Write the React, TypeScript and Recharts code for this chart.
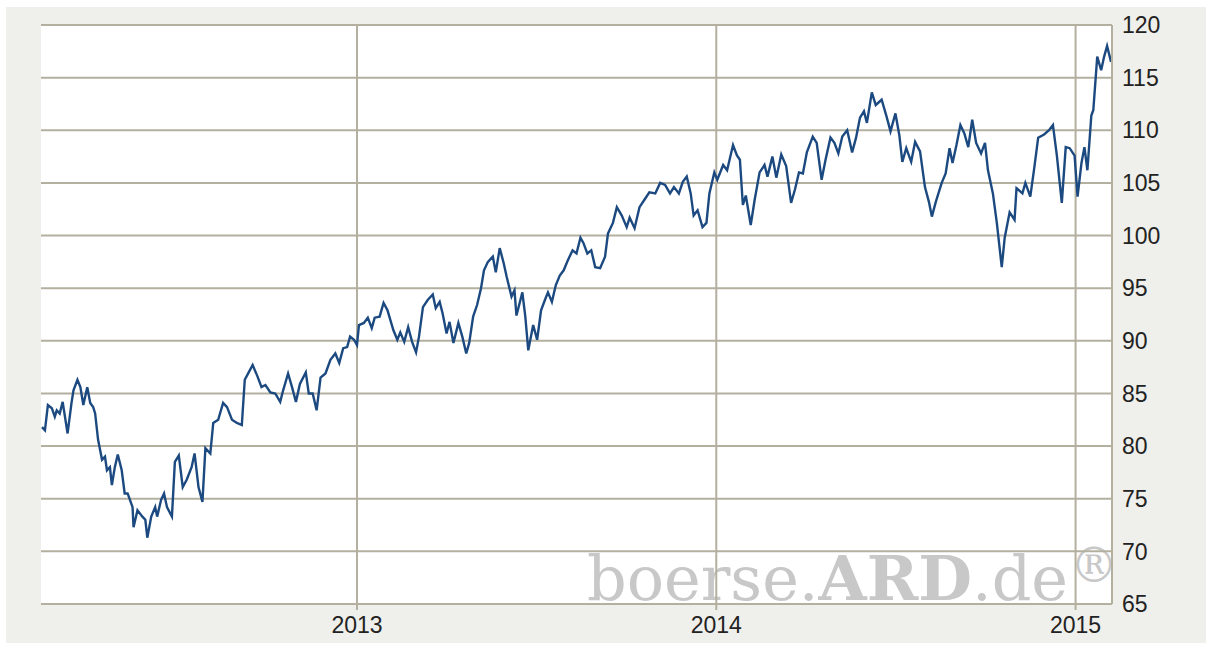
import React from "react";
import { LineChart, Line, XAxis, YAxis, CartesianGrid, ReferenceLine } from "recharts";

const dates: string[] = [
  "2012-02-16","2012-02-19","2012-02-22","2012-02-26","2012-02-29","2012-03-02","2012-03-05","2012-03-08","2012-03-13","2012-03-17",
  "2012-03-19","2012-03-23","2012-03-26","2012-03-29","2012-04-02","2012-04-05","2012-04-08","2012-04-10","2012-04-13","2012-04-17",
  "2012-04-20","2012-04-22","2012-04-25","2012-04-27","2012-04-30","2012-05-03","2012-05-07","2012-05-10","2012-05-13","2012-05-18",
  "2012-05-19","2012-05-23","2012-05-28","2012-05-31","2012-06-02","2012-06-06","2012-06-10","2012-06-12","2012-06-16","2012-06-19",
  "2012-06-22","2012-06-27","2012-06-30","2012-07-04","2012-07-08","2012-07-12","2012-07-17","2012-07-20","2012-07-24","2012-07-28",
  "2012-07-31","2012-08-05","2012-08-08","2012-08-13","2012-08-18","2012-08-22","2012-08-27","2012-09-01","2012-09-06","2012-09-09",
  "2012-09-13","2012-09-17","2012-09-22","2012-09-26","2012-09-30","2012-10-05","2012-10-10","2012-10-15","2012-10-18","2012-10-23",
  "2012-10-27","2012-10-31","2012-11-04","2012-11-10","2012-11-13","2012-11-17","2012-11-21","2012-11-25","2012-11-30","2012-12-05",
  "2012-12-10","2012-12-14","2012-12-18","2012-12-22","2012-12-25","2012-12-29",
  "2013-01-01","2013-01-03","2013-01-08","2013-01-12","2013-01-16","2013-01-19","2013-01-24","2013-01-28","2013-02-01","2013-02-07",
  "2013-02-11","2013-02-14","2013-02-18","2013-02-22","2013-02-26","2013-03-02","2013-03-05","2013-03-09","2013-03-14","2013-03-19",
  "2013-03-22","2013-03-26","2013-03-29","2013-04-02","2013-04-05","2013-04-09","2013-04-14","2013-04-18","2013-04-22","2013-04-25",
  "2013-04-29","2013-05-03","2013-05-07","2013-05-10","2013-05-14","2013-05-19","2013-05-22","2013-05-26","2013-05-30","2013-06-02",
  "2013-06-07","2013-06-10","2013-06-12","2013-06-18","2013-06-21","2013-06-24","2013-06-29","2013-07-03","2013-07-07","2013-07-11",
  "2013-07-14","2013-07-18","2013-07-22","2013-07-26","2013-07-30","2013-08-03","2013-08-08","2013-08-12","2013-08-16","2013-08-19",
  "2013-08-23","2013-08-27","2013-08-31","2013-09-05","2013-09-10","2013-09-13","2013-09-18","2013-09-22","2013-09-27","2013-10-02",
  "2013-10-05","2013-10-10","2013-10-15","2013-10-20","2013-10-25","2013-10-31","2013-11-05","2013-11-10","2013-11-15","2013-11-19",
  "2013-11-24","2013-11-28","2013-12-02","2013-12-06","2013-12-09","2013-12-13","2013-12-18","2013-12-22","2013-12-25","2013-12-30",
  "2014-01-02","2014-01-08","2014-01-12","2014-01-18","2014-01-22","2014-01-25","2014-01-28","2014-01-31","2014-02-05","2014-02-09",
  "2014-02-14","2014-02-19","2014-02-22","2014-02-27","2014-03-03","2014-03-08","2014-03-13","2014-03-18","2014-03-22","2014-03-26",
  "2014-03-30","2014-04-03","2014-04-09","2014-04-13","2014-04-18","2014-04-22","2014-04-27","2014-05-01","2014-05-05","2014-05-09",
  "2014-05-14","2014-05-19","2014-05-23","2014-05-27","2014-05-31","2014-06-03","2014-06-08","2014-06-12","2014-06-18","2014-06-23",
  "2014-06-27","2014-07-02","2014-07-06","2014-07-09","2014-07-13","2014-07-18","2014-07-22","2014-07-27","2014-08-01","2014-08-05",
  "2014-08-08","2014-08-12","2014-08-18","2014-08-22","2014-08-26","2014-08-29","2014-09-02","2014-09-06","2014-09-10","2014-09-14",
  "2014-09-18","2014-09-22","2014-09-27","2014-10-01","2014-10-04","2014-10-09","2014-10-13","2014-10-18","2014-10-21","2014-10-26",
  "2014-10-31","2014-11-02","2014-11-08","2014-11-11","2014-11-16","2014-11-20","2014-11-24","2014-11-30","2014-12-05","2014-12-09",
  "2014-12-13","2014-12-18","2014-12-22","2014-12-26","2014-12-31",
  "2015-01-03","2015-01-07","2015-01-10","2015-01-13","2015-01-17","2015-01-19","2015-01-23","2015-01-27","2015-01-30","2015-02-02",
  "2015-02-06",
];

const values: number[] = [
  81.8,81.5,83.9,83.6,82.8,83.4,83.1,84.2,81.2,84.1,
  85.3,86.3,85.6,83.9,85.6,84.1,83.7,83.1,80.6,78.7,
  79.0,77.7,78.0,76.3,78.0,79.2,77.7,75.5,75.5,74.2,
  72.3,73.9,73.3,73.0,71.3,73.3,74.2,73.3,74.9,75.5,
  74.2,73.3,78.5,79.1,76.1,76.8,78.0,79.3,76.1,74.7,
  79.8,79.3,82.2,82.5,84.1,83.7,82.5,82.2,82.0,86.3,
  87.0,87.7,86.6,85.6,85.8,85.1,85.0,84.2,85.3,86.9,
  85.6,84.2,85.9,87.0,85.0,85.0,83.4,86.5,86.9,88.2,
  88.8,87.9,89.3,89.4,90.4,90.1,
  89.6,91.5,91.7,92.2,91.2,92.2,92.3,93.6,92.9,91.0,
  90.1,90.8,89.9,91.3,89.9,88.9,90.4,93.2,93.9,94.4,
  93.1,93.7,92.6,90.7,91.8,89.8,91.7,90.4,88.8,89.8,
  92.3,93.4,95.0,96.7,97.5,98.0,96.5,98.8,97.4,96.1,
  94.2,94.8,92.4,94.6,92.3,89.1,91.5,90.1,92.9,93.9,
  94.6,93.7,95.3,96.2,96.7,97.6,98.6,98.3,99.8,99.3,
  98.3,98.6,97.0,96.9,98.0,100.2,101.2,102.7,101.9,100.8,
  101.7,100.7,102.7,103.4,104.1,104.0,105.0,104.8,104.0,104.6,
  104.0,105.1,105.6,104.0,101.9,102.4,100.8,101.2,104.0,106.0,
  105.3,106.7,106.2,108.6,107.6,107.2,102.9,103.8,101.0,103.4,
  106.0,106.7,105.6,107.5,105.5,107.7,106.6,103.1,104.4,106.0,
  105.9,107.9,109.4,108.8,105.3,107.2,109.3,108.8,107.8,109.4,
  110.0,107.9,109.3,111.2,111.8,110.7,113.6,112.4,112.9,111.3,
  109.9,111.6,109.5,107.0,108.3,107.0,108.9,108.0,104.6,103.2,
  101.8,103.2,105.0,105.9,108.3,106.9,108.6,110.5,109.7,108.4,
  111.0,108.8,107.8,108.8,106.2,104.0,101.2,97.0,99.8,102.2,
  101.5,104.5,104.0,105.0,103.7,106.4,109.3,109.6,110.0,110.5,
  107.6,103.1,108.4,108.3,107.6,
  103.7,106.9,108.4,106.2,111.4,111.9,117.0,115.7,117.0,118.0,
  116.5,
];

const yTicks: number[] = [65, 70, 75, 80, 85, 90, 95, 100, 105, 110, 115, 120];
const xTickDates: string[] = ["2013-01-01", "2014-01-01", "2015-01-01"];
const xDomainDates: string[] = ["2012-02-15", "2015-02-07"];

const toTs = (d: string) => Date.parse(d + "T00:00:00Z");

const data = dates.map((d, i) => ({ t: toTs(d), v: values[i] }));
const xTicks = xTickDates.map(toTs);
const xDomain = xDomainDates.map(toTs);

const GRID = "#b3b09f";
const TEXT = "#222222";
const FONT = "'Liberation Sans', Arial, sans-serif";

export default function App() {
  return (
    <div style={{ position: "absolute", left: 0, top: 0, width: 1212, height: 650, background: "#ffffff", overflow: "hidden" }}>
      <div style={{ position: "absolute", left: 6, top: 7, width: 1200, height: 636, background: "#efefeb" }} />
      <div style={{ position: "absolute", left: 41, top: 25, width: 1071, height: 579, background: "#ffffff" }} />
      <svg style={{ position: "absolute", left: 0, top: 0 }} width={1212} height={650}>
        <text x={587} y={600} fill="#c8c8c8" fontFamily="'DejaVu Serif', serif" fontSize={62}>
          <tspan>boerse.</tspan>
          <tspan fontWeight="bold">ARD</tspan>
          <tspan>.de</tspan>
          <tspan fontSize={48} dy={-18} dx={2}>®</tspan>
        </text>
      </svg>
      <div style={{ position: "absolute", left: 0, top: 0 }}>
        <LineChart width={1212} height={650} data={data} margin={{ top: 25, left: 41, right: 0, bottom: 16 }}>
          <CartesianGrid stroke={GRID} strokeWidth={2} vertical={false} />
          <XAxis
            dataKey="t"
            type="number"
            domain={xDomain}
            ticks={xTicks}
            interval={0}
            height={30}
            tickFormatter={(t: number) => String(new Date(t).getUTCFullYear())}
            axisLine={{ stroke: GRID, strokeWidth: 2 }}
            tickLine={{ stroke: GRID, strokeWidth: 2 }}
            tickSize={6}
            tickMargin={7}
            tick={{ fill: TEXT, fontSize: 23, fontFamily: FONT }}
            allowDataOverflow
          />
          <YAxis
            orientation="right"
            domain={[65, 120]}
            ticks={yTicks}
            interval={0}
            width={100}
            axisLine={{ stroke: GRID, strokeWidth: 2 }}
            tickLine={false}
            tickSize={0}
            tickMargin={10}
            tick={{ fill: TEXT, fontSize: 23, fontFamily: FONT, textAnchor: "start" }}
            allowDataOverflow
          />
          {xTicks.map((t) => (
            <ReferenceLine key={t} x={t} stroke={GRID} strokeWidth={2} />
          ))}
          <Line
            type="linear"
            dataKey="v"
            stroke="#1c4a80"
            strokeWidth={2.4}
            dot={false}
            isAnimationActive={false}
          />
        </LineChart>
      </div>
    </div>
  );
}
